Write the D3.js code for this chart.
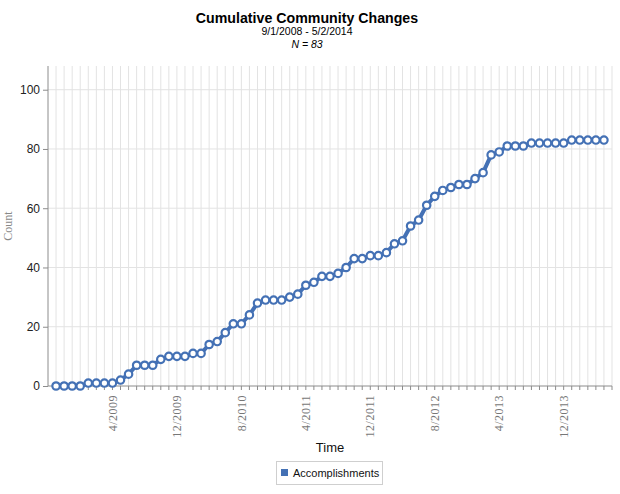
<!DOCTYPE html>
<html>
<head>
<meta charset="utf-8">
<script src="https://cdn.jsdelivr.net/npm/d3@7"></script>
<style>
  body { margin: 0; background: #fff; }
  text { font-family: "Liberation Sans", Arial, sans-serif; }
</style>
</head>
<body>
<div id="chart"></div>
<script>
var svgWidth = 620;
var svgHeight = 494;

var margin = {
  top: 66,
  right: 8,
  bottom: 108,
  left: 48
};

var width = svgWidth - margin.left - margin.right;
var height = svgHeight - margin.top - margin.bottom;

// monthly categories, 9/2008 .. 5/2014
var months = d3.timeMonth.range(new Date(2008, 8, 1), new Date(2014, 5, 1));

// cumulative accomplishments per month
var accomplishments = [
  0, 0, 0, 0, 1, 1, 1, 1, 2, 4, 7, 7, 7, 9, 10, 10, 10, 11, 11, 14, 15, 18, 21, 21,
  24, 28, 29, 29, 29, 30, 31, 34, 35, 37, 37, 38, 40, 43, 43, 44, 44, 45, 48, 49, 54, 56, 61,
  64, 66, 67, 68, 68, 70, 72, 78, 79, 81, 81, 81, 82, 82, 82, 82, 82, 83, 83, 83, 83, 83
];

var xTickLabels = ["4/2009", "12/2009", "8/2010", "4/2011", "12/2011", "8/2012", "4/2013", "12/2013"];
var yTicks = [0, 20, 40, 60, 80, 100];

var fmt = d3.timeFormat("%-m/%Y");
var keys = months.map(d => fmt(d));

var svg = d3.select("#chart")
  .append("svg")
  .attr("width", svgWidth)
  .attr("height", svgHeight);

// titles
svg.append("text")
  .attr("x", 307).attr("y", 23)
  .attr("text-anchor", "middle")
  .style("font-size", "14.2px")
  .style("font-weight", "bold")
  .text("Cumulative Community Changes");

svg.append("text")
  .attr("x", 307).attr("y", 35)
  .attr("text-anchor", "middle")
  .style("font-size", "10.5px")
  .text("9/1/2008 - 5/2/2014");

svg.append("text")
  .attr("x", 307).attr("y", 47.5)
  .attr("text-anchor", "middle")
  .style("font-size", "10.5px")
  .style("font-style", "italic")
  .text("N = 83");

var chartGroup = svg.append("g")
  .attr("transform", `translate(${margin.left}, ${margin.top})`);

// scales
var xScale = d3.scalePoint()
  .domain(keys)
  .range([0, width])
  .padding(1);

var yScale = d3.scaleLinear()
  .domain([0, 108])
  .range([height, 0]);

// vertical grid lines (one per month plus ends)
var gridX = keys.map(k => xScale(k)).concat([width]);
chartGroup.append("g")
  .selectAll("line")
  .data(gridX)
  .enter()
  .append("line")
  .attr("x1", d => d).attr("x2", d => d)
  .attr("y1", 0).attr("y2", height)
  .attr("stroke", "#e3e3e3")
  .attr("stroke-width", 1);

// horizontal grid lines
chartGroup.append("g")
  .selectAll("line")
  .data(yTicks.filter(d => d > 0))
  .enter()
  .append("line")
  .attr("x1", 0).attr("x2", width)
  .attr("y1", d => yScale(d)).attr("y2", d => yScale(d))
  .attr("stroke", "#e3e3e3")
  .attr("stroke-width", 1);

// y axis
var leftAxis = d3.axisLeft(yScale)
  .tickValues(yTicks)
  .tickSize(5)
  .tickPadding(3);

var yAxis = chartGroup.append("g").call(leftAxis);
yAxis.select(".domain").remove();
yAxis.selectAll(".tick line").attr("stroke", "#8c8c8c");
yAxis.selectAll("text")
  .style("font-size", "12px")
  .style("font-family", "'Liberation Sans', Arial, sans-serif")
  .attr("fill", "#222");
yAxis.append("line")
  .attr("x1", 0).attr("x2", 0)
  .attr("y1", 0).attr("y2", height)
  .attr("stroke", "#8c8c8c");

// x axis
var xAxis = chartGroup.append("g")
  .attr("transform", `translate(0, ${height})`);
xAxis.append("line")
  .attr("x1", 0).attr("x2", width)
  .attr("stroke", "#8c8c8c");
xAxis.selectAll(".tick")
  .data(gridX)
  .enter()
  .append("line")
  .attr("class", "tick")
  .attr("x1", d => d).attr("x2", d => d)
  .attr("y1", 0).attr("y2", 4)
  .attr("stroke", "#8c8c8c");

xAxis.selectAll(".lbl")
  .data(xTickLabels)
  .enter()
  .append("text")
  .attr("class", "lbl")
  .attr("transform", d => `translate(${xScale(d)}, 9) rotate(-90)`)
  .attr("dy", "0.35em")
  .attr("text-anchor", "end")
  .style("font-family", "'Liberation Serif', 'Times New Roman', serif")
  .style("font-size", "12px")
  .style("letter-spacing", "0.5px")
  .attr("fill", "#777")
  .text(d => d);

// axis titles
chartGroup.append("text")
  .attr("x", width / 2)
  .attr("y", height + 66)
  .attr("text-anchor", "middle")
  .style("font-size", "13px")
  .attr("fill", "#111")
  .text("Time");

chartGroup.append("text")
  .attr("transform", `translate(${-36}, ${height / 2}) rotate(-90)`)
  .attr("text-anchor", "middle")
  .style("font-family", "'Liberation Serif', 'Times New Roman', serif")
  .style("font-size", "12px")
  .attr("fill", "#888")
  .text("Count");

// line + markers
var lineColor = "#4471b5";
var lineGen = d3.line()
  .x((d, i) => xScale(keys[i]))
  .y(d => yScale(d));

chartGroup.append("path")
  .datum(accomplishments)
  .attr("d", lineGen)
  .attr("fill", "none")
  .attr("stroke", lineColor)
  .attr("stroke-width", 4)
  .attr("stroke-linejoin", "round");

chartGroup.selectAll("circle")
  .data(accomplishments)
  .enter()
  .append("circle")
  .attr("cx", (d, i) => xScale(keys[i]))
  .attr("cy", d => yScale(d))
  .attr("r", 3.7)
  .attr("fill", "#fff")
  .attr("stroke", lineColor)
  .attr("stroke-width", 2.2);

// legend
var legend = svg.append("g").attr("transform", "translate(276, 461)");
legend.append("rect")
  .attr("x", 0.5).attr("y", 0.5)
  .attr("width", 106).attr("height", 23)
  .attr("fill", "#fff")
  .attr("stroke", "#cfcfcf");
legend.append("rect")
  .attr("x", 5).attr("y", 8)
  .attr("width", 7).attr("height", 7)
  .attr("fill", lineColor);
legend.append("text")
  .attr("x", 17).attr("y", 16)
  .style("font-size", "11px")
  .attr("fill", "#111")
  .text("Accomplishments");
</script>
</body>
</html>
